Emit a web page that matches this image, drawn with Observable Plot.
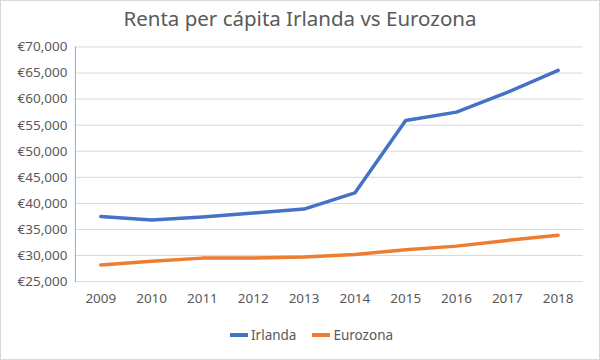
<!DOCTYPE html>
<html>
<head>
<meta charset="utf-8">
<script src="https://cdn.jsdelivr.net/npm/d3@7"></script>
<script src="https://cdn.jsdelivr.net/npm/@observablehq/plot@0.6"></script>
<style>
  html, body { margin: 0; padding: 0; background: #fff; }
  #wrap { position: relative; width: 600px; height: 360px; box-sizing: border-box; border: 1px solid #d9d9d9; font-family: "Noto Sans", sans-serif; color: #595959; overflow: hidden; }
  #title { position: absolute; top: 3px; left: 0; width: 100%; text-align: center; font-size: 20.5px; line-height: 28px; color: #595959; }
  #chart { position: absolute; top: 31px; left: -1px; }
  #legend { position: absolute; top: 324px; left: 229px; display: flex; gap: 16px; font-size: 13.5px; line-height: 20px; }
  .item { display: flex; align-items: center; }
  .sw { width: 18px; height: 4px; margin-right: 3px; }
</style>
</head>
<body>
<div id="wrap">
  <div id="title">Renta per cápita Irlanda vs Eurozona</div>
  <div id="chart"></div>
  <div id="legend"></div>
</div>
<script>
const years = ["2009","2010","2011","2012","2013","2014","2015","2016","2017","2018"];
const irlanda = [37500, 36800, 37400, 38150, 38900, 42000, 55900, 57500, 61300, 65500];
const eurozona = [28200, 28900, 29500, 29500, 29700, 30200, 31100, 31800, 32900, 33900];
const yTicks = [25000, 30000, 35000, 40000, 45000, 50000, 55000, 60000, 65000, 70000];
const seriesNames = ["Irlanda", "Eurozona"];
const seriesColors = ["#4472C4", "#ED7D31"];

const rows = [];
years.forEach((y, i) => {
  rows.push({year: y, value: irlanda[i], series: seriesNames[0]});
  rows.push({year: y, value: eurozona[i], series: seriesNames[1]});
});

const fmt = d => "€" + d3.format(",")(d);

const chart = Plot.plot({
  width: 600,
  height: 290,
  marginLeft: 75,
  marginRight: 16,
  marginTop: 14.5,
  marginBottom: 40.5,
  style: {fontFamily: "Noto Sans, sans-serif", fontSize: "13px", color: "#595959", background: "transparent"},
  x: {type: "point", domain: years, padding: 0.5, round: false, label: null},
  y: {domain: [25000, 70000], ticks: yTicks, label: null},
  color: {domain: seriesNames, range: seriesColors},
  marks: [
    Plot.gridY(yTicks, {stroke: "#d9d9d9", strokeOpacity: 1, strokeWidth: 1}),
    Plot.frame({anchor: "left", stroke: "#8eaadb", strokeOpacity: 1}),
    Plot.axisY({ticks: yTicks, tickFormat: fmt, tickSize: 0, tickPadding: 8, fill: "#595959", fontSize: 13.5, label: null}),
    Plot.axisX({tickSize: 0, tickPadding: 12, fill: "#595959", fontSize: 13.5, label: null}),
    Plot.lineY(rows, {x: "year", y: "value", z: "series", stroke: "series", strokeWidth: 3.5, strokeLinecap: "round", strokeLinejoin: "round"})
  ]
});
document.getElementById("chart").appendChild(chart);

const legend = document.getElementById("legend");
seriesNames.forEach((n, i) => {
  const it = document.createElement("div");
  it.className = "item";
  const sw = document.createElement("div");
  sw.className = "sw";
  sw.style.background = seriesColors[i];
  const t = document.createElement("span");
  t.textContent = n;
  it.appendChild(sw); it.appendChild(t);
  legend.appendChild(it);
});
</script>
</body>
</html>
